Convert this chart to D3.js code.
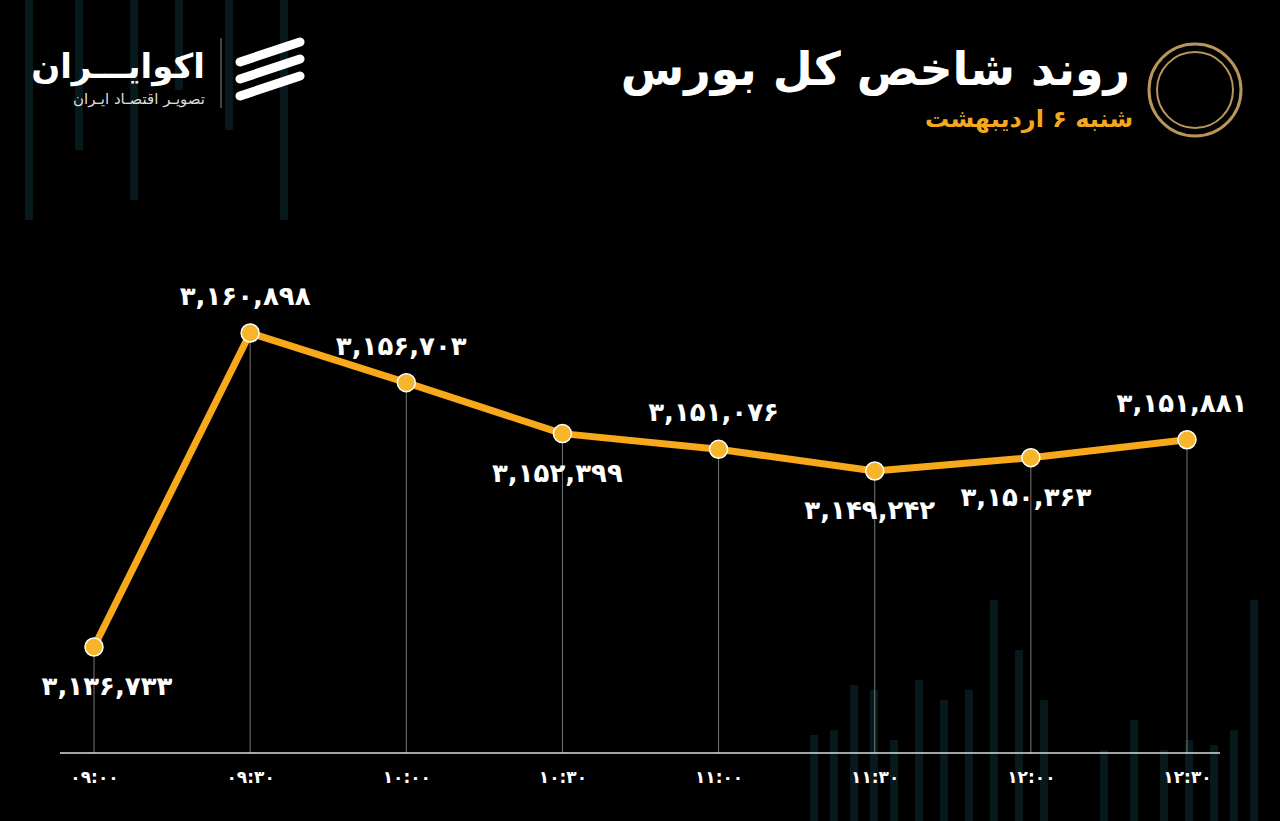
<!DOCTYPE html>
<html>
<head>
<meta charset="utf-8">
<script src="https://cdn.jsdelivr.net/npm/d3@7"></script>
<style>
  body { margin: 0; background: #000; }
  text { font-family: "DejaVu Sans", sans-serif; }
</style>
</head>
<body>
<svg id="chart" width="1280" height="821"></svg>
<script>
var times = ["09:00", "09:30", "10:00", "10:30", "11:00", "11:30", "12:00", "12:30"];
var values = [3136733, 3160898, 3156703, 3152399, 3151076, 3149242, 3150363, 3151881];
var labelAbove = [false, true, true, false, true, false, false, true];
// faint background bars (decoration)
var bgBarsX = [25, 75, 130, 175, 225, 280, 810, 830, 850, 870, 890, 915, 940, 965, 990, 1015, 1040, 1100, 1130, 1160, 1185, 1210, 1230, 1250];
var bgBarsTop = [0, 0, 0, 0, 0, 0, 735, 730, 685, 690, 740, 680, 700, 690, 600, 650, 700, 750, 720, 750, 740, 745, 730, 600];
var bgBarsBottom = [220, 150, 200, 90, 130, 220, 821, 821, 821, 821, 821, 821, 821, 821, 821, 821, 821, 821, 821, 821, 821, 821, 821, 821];

function fa(s) {
  return String(s).replace(/[0-9]/g, function(d) { return "۰۱۲۳۴۵۶۷۸۹"[+d]; });
}

var svg = d3.select("#chart");

svg.selectAll(".bg").data(bgBarsX).enter().append("rect")
  .attr("x", function(d) { return d; })
  .attr("y", function(d, i) { return bgBarsTop[i]; })
  .attr("width", 8)
  .attr("height", function(d, i) { return bgBarsBottom[i] - bgBarsTop[i]; })
  .style("fill", "#08191e");

var x = d3.scalePoint().domain(times).range([94, 1187]);
var y = d3.scaleLinear().domain([3136733, 3149242, 3160898]).range([647, 471, 333]);
var baseY = 753;

// header
svg.append("text").attr("x", 1130).attr("y", 85).attr("text-anchor", "end")
  .style("font-size", "46px").style("font-weight", "bold").style("fill", "#fff")
  .text("روند شاخص کل بورس");
svg.append("text").attr("x", 1133).attr("y", 127).attr("text-anchor", "end")
  .style("font-size", "24px").style("font-weight", "bold").style("fill", "#f4a81d")
  .text("شنبه ۶ اردیبهشت");
svg.append("circle").attr("cx", 1195).attr("cy", 90).attr("r", 46)
  .style("fill", "none").style("stroke", "#b8955a").style("stroke-width", 3);
svg.append("circle").attr("cx", 1195).attr("cy", 90).attr("r", 38)
  .style("fill", "none").style("stroke", "#b8955a").style("stroke-width", 2);

svg.append("text").attr("x", 205).attr("y", 78).attr("text-anchor", "end")
  .style("font-size", "34px").style("font-weight", "bold").style("fill", "#fff")
  .text("اکوایـــران");
svg.append("text").attr("x", 205).attr("y", 104).attr("text-anchor", "end")
  .style("font-size", "15px").style("fill", "#ddd")
  .text("تصویـر اقتصـاد ایـران");
svg.append("line").attr("x1", 221).attr("x2", 221).attr("y1", 38).attr("y2", 108)
  .style("stroke", "#888");
[0, 1, 2].forEach(function(k) {
  svg.append("line").attr("x1", 240).attr("y1", 62 + k * 17).attr("x2", 300).attr("y2", 42 + k * 17)
    .style("stroke", "#fff").style("stroke-width", 9).style("stroke-linecap", "round");
});

// drop lines
svg.selectAll(".drop").data(values).enter().append("line")
  .attr("x1", function(d, i) { return x(times[i]); })
  .attr("x2", function(d, i) { return x(times[i]); })
  .attr("y1", function(d) { return y(d); })
  .attr("y2", baseY)
  .style("stroke", "#777").style("stroke-width", 1);

// axis
var axis = svg.append("g").attr("transform", "translate(0," + baseY + ")")
  .call(d3.axisBottom(x).tickSize(0).tickPadding(18).tickFormat(fa));
axis.select(".domain").attr("d", "M60,0H1220").style("stroke", "#ddd").style("stroke-width", 1.5);
axis.selectAll("text").style("fill", "#fff").style("font-size", "17px").style("font-weight", "bold")
  .style("font-family", "DejaVu Sans, sans-serif");

var line = d3.line()
  .x(function(d, i) { return x(times[i]); })
  .y(function(d) { return y(d); });
svg.append("path").datum(values).attr("d", line)
  .style("fill", "none").style("stroke", "#f7a81b").style("stroke-width", 7)
  .style("stroke-linejoin", "round");

svg.selectAll(".pt").data(values).enter().append("circle")
  .attr("cx", function(d, i) { return x(times[i]); })
  .attr("cy", function(d) { return y(d); })
  .attr("r", 9)
  .style("fill", "#f7b52b").style("stroke", "#fff").style("stroke-width", 1.5);

svg.selectAll(".lbl").data(values).enter().append("text")
  .attr("x", function(d, i) { return x(times[i]) + (i === 0 ? 13 : -5); })
  .attr("y", function(d, i) { return y(d) + (labelAbove[i] ? -28 : 48); })
  .attr("text-anchor", "middle")
  .style("fill", "#fff").style("font-size", "26px").style("font-weight", "bold")
  .style("letter-spacing", "2px")
  .text(function(d) { return fa(d3.format(",")(d)); });
</script>
</body>
</html>
